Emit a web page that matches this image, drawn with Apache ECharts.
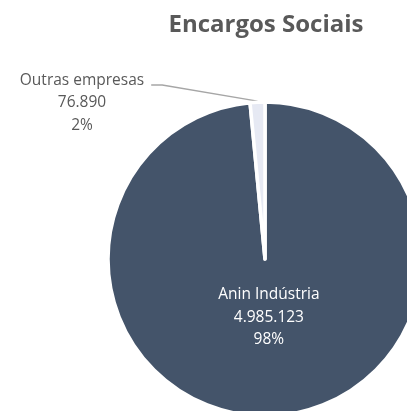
<!DOCTYPE html>
<html>
<head>
<meta charset="utf-8">
<script src="https://cdn.jsdelivr.net/npm/echarts@6/dist/echarts.min.js"></script>
<style>
html,body{margin:0;padding:0;background:#fff;}
#chart{width:407px;height:411px;}
</style>
</head>
<body>
<div id="chart"></div>
<script>
var titleText = 'Encargos Sociais';
var categories = ['Anin Indústria', 'Outras empresas'];
var values = [4985123, 76890];
var colors = ['#44546A', '#E6E9F3'];

function fmtNum(n) {
  return String(n).replace(/\B(?=(\d{3})+(?!\d))/g, '.');
}

var data = categories.map(function (c, i) {
  var inside = i === 0;
  return {
    name: c,
    value: values[i],
    itemStyle: { color: colors[i] },
    label: inside ? { position: 'inside', color: '#FFFFFF' } : { position: 'outside', color: '#595959' },
    labelLine: { show: !inside }
  };
});

var chart = echarts.init(document.getElementById('chart'));

function edgePoint(idx) {
  var sd = chart.getModel().getSeriesByIndex(0).getData();
  var l = sd.getItemLayout(idx);
  if (!l) return null;
  var mid = (l.startAngle + l.endAngle) / 2;
  return [l.cx + l.r * Math.cos(mid), l.cy + l.r * Math.sin(mid)];
}

var edge = null;
function buildOption() {
  return {
    animation: false,
    title: {
      text: titleText,
      left: 261,
      top: 8,
      textAlign: 'center',
      textStyle: { fontFamily: 'Open Sans', fontWeight: 'bold', fontSize: 24, color: '#595959' }
    },
    series: [{
      type: 'pie',
      center: [265, 259],
      radius: 157,
      startAngle: 90,
      clockwise: true,
      data: data,
      itemStyle: { borderColor: '#fff', borderWidth: 3.5 },
      label: {
        show: true,
        formatter: function (p) {
          return p.name + '\n' + fmtNum(p.value) + '\n' + Math.round(p.percent) + '%';
        },
        fontFamily: 'Open Sans',
        fontSize: 15.5,
        lineHeight: 22.5,
        align: 'center'
      },
      labelLine: { show: true, lineStyle: { color: '#A6A6A6', width: 1.3 } },
      labelLayout: function (params) {
        if (params.dataIndex === 0) {
          return { dy: -11.5 };
        }
        var p0 = edge || (params.labelLinePoints ? params.labelLinePoints[0] : null);
        var x = 82, y = 103;
        var right = x + params.labelRect.width / 2;
        return {
          x: x, y: y, align: 'center', verticalAlign: 'middle',
          labelLinePoints: p0 ? [[p0[0], p0[1] - 1], [right + 18, y - 18], [right + 7, y - 18]] : undefined
        };
      },
      emphasis: { disabled: true }
    }]
  };
}
chart.setOption(buildOption());
edge = edgePoint(1);
chart.setOption(buildOption(), true);
</script>
</body>
</html>
